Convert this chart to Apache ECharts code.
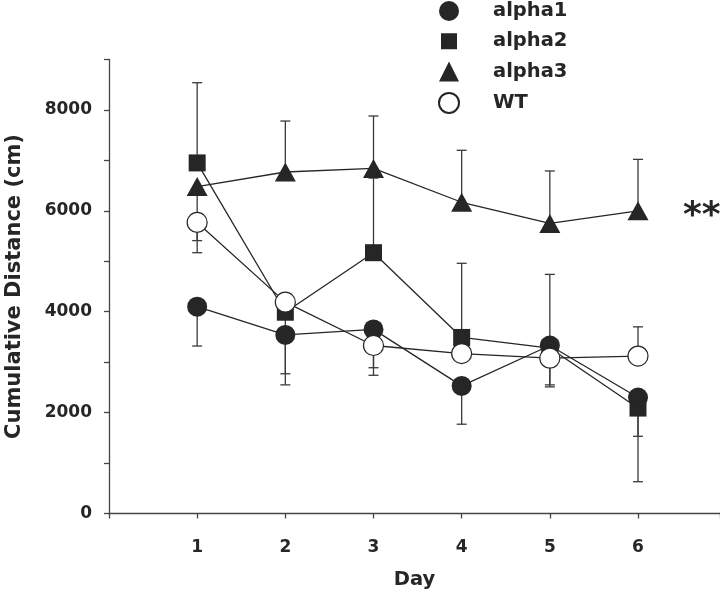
<!DOCTYPE html>
<html>
<head>
<meta charset="utf-8">
<script src="https://cdn.jsdelivr.net/npm/echarts@6/dist/echarts.min.js"></script>
<style>html,body{margin:0;padding:0;background:#fff}#c{width:720px;height:593px}</style>
</head>
<body>
<div id="c"></div>
<script>
const days = [1, 2, 3, 4, 5, 6];
const alpha1 = [4100, 3540, 3650, 2530, 3330, 2300];
const alpha2 = [6950, 3990, 5170, 3490, 3280, 2090];
const alpha3 = [6480, 6770, 6840, 6170, 5750, 6000];
const wt     = [5770, 4190, 3330, 3170, 3080, 3120];
// one-sided error bar end values (null = none)
const alpha1Err = [3320, 2550, 2740, 1770, 2510, 1530];
const alpha2Err = [8540, 2770, 6650, 4960, 4740, 630];
const alpha3Err = [5170, 7780, 7880, 7200, 6790, 7020];
const wtErr     = [5410, null, 2890, null, 2550, 3700];
const yTicks = [0, 2000, 4000, 6000, 8000];
const seriesNames = ['alpha1', 'alpha2', 'alpha3', 'WT'];

const FONT = '"DejaVu Sans", Verdana, sans-serif';
const INK = '#262626';

function pairs(vals) { return days.map((d, i) => [d, vals[i]]); }
function errData(vals, ends) {
  const out = [];
  days.forEach((d, i) => { if (ends[i] != null) out.push([d, vals[i], ends[i]]); });
  return out;
}
function errSeries(vals, ends) {
  return {
    type: 'custom', silent: true, z: 1,
    data: errData(vals, ends),
    encode: { x: 0, y: [1, 2] },
    renderItem: function (params, api) {
      const p0 = api.coord([api.value(0), api.value(1)]);
      const p1 = api.coord([api.value(0), api.value(2)]);
      const hw = 5;
      const st = { stroke: '#3a3a3a', lineWidth: 1.3 };
      return { type: 'group', children: [
        { type: 'line', shape: { x1: p0[0], y1: p0[1], x2: p1[0], y2: p1[1] }, style: st },
        { type: 'line', shape: { x1: p1[0] - hw, y1: p1[1], x2: p1[0] + hw, y2: p1[1] }, style: st }
      ]};
    }
  };
}
function lineSeries(name, vals, symbol, size, fill, z) {
  return {
    name: name, type: 'line', data: pairs(vals), z: z,
    symbol: symbol, symbolSize: size, showAllSymbol: true,
    lineStyle: { color: INK, width: 1.3 },
    itemStyle: { color: fill, borderColor: INK, borderWidth: fill === '#ffffff' ? 1.2 : 0, opacity: 1 },
    emphasis: { disabled: true }
  };
}

const chart = echarts.init(document.getElementById('c'), null, { renderer: 'canvas' });
chart.setOption({
  animation: false,
  backgroundColor: '#ffffff',
  textStyle: { fontFamily: FONT },
  grid: { left: 109, right: 0, top: 59.5, bottom: 79.5, containLabel: false, outerBoundsMode: 'none' },
  legend: {
    orient: 'vertical', left: 438, top: 1, padding: 0,
    itemWidth: 20, itemHeight: 20, itemGap: 10.3,
    selectedMode: false,
    textStyle: { fontFamily: FONT, fontWeight: 'bold', fontSize: 19.5, color: INK, padding: [0, 0, 0, 29] },
    data: [
      { name: 'alpha1', icon: 'circle' },
      { name: 'alpha2', icon: 'path://M2,2L18,2L18,18L2,18Z M0,0L0.01,0 M20,20L19.99,20' },
      { name: 'alpha3', icon: 'triangle' },
      { name: 'WT', icon: 'circle' }
    ]
  },
  xAxis: {
    type: 'value', min: 0, max: 6.93, interval: 1,
    name: 'Day', nameLocation: 'middle', nameGap: 56,
    nameTextStyle: { fontFamily: FONT, fontWeight: 'bold', fontSize: 19.5, color: INK },
    axisLine: { lineStyle: { color: '#444', width: 1.3 } },
    axisTick: { length: 5, lineStyle: { color: '#444', width: 1.3 } },
    axisLabel: {
      margin: 26, fontFamily: FONT, fontWeight: 'bold', fontSize: 17, color: INK,
      formatter: v => (days.indexOf(v) >= 0 ? String(v) : '')
    },
    splitLine: { show: false }
  },
  yAxis: {
    type: 'value', min: 0, max: 9000, interval: 1000,
    name: 'Cumulative Distance (cm)', nameLocation: 'middle', nameGap: 84,
    nameTextStyle: { fontFamily: FONT, fontWeight: 'bold', fontSize: 21, color: INK },
    axisLine: { show: true, lineStyle: { color: '#444', width: 1.3 } },
    axisTick: { show: true, length: 5, lineStyle: { color: '#444', width: 1.3 } },
    axisLabel: {
      margin: 17, fontFamily: FONT, fontWeight: 'bold', fontSize: 17, color: INK,
      formatter: v => (yTicks.indexOf(v) >= 0 ? String(v) : '')
    },
    splitLine: { show: false }
  },
  graphic: [{
    type: 'text', left: 683, top: 199,
    style: { text: '**', fontFamily: FONT, fontWeight: 'bold', fontSize: 36, fill: INK }
  }],
  series: [
    errSeries(alpha1, alpha1Err),
    errSeries(alpha2, alpha2Err),
    errSeries(alpha3, alpha3Err),
    errSeries(wt, wtErr),
    lineSeries('alpha2', alpha2, 'rect', 17, INK, 3),
    lineSeries('alpha1', alpha1, 'circle', 20, INK, 4),
    lineSeries('alpha3', alpha3, 'triangle', [21, 19], INK, 5),
    lineSeries('WT', wt, 'circle', 20, '#ffffff', 6)
  ]
});
</script>
</body>
</html>
